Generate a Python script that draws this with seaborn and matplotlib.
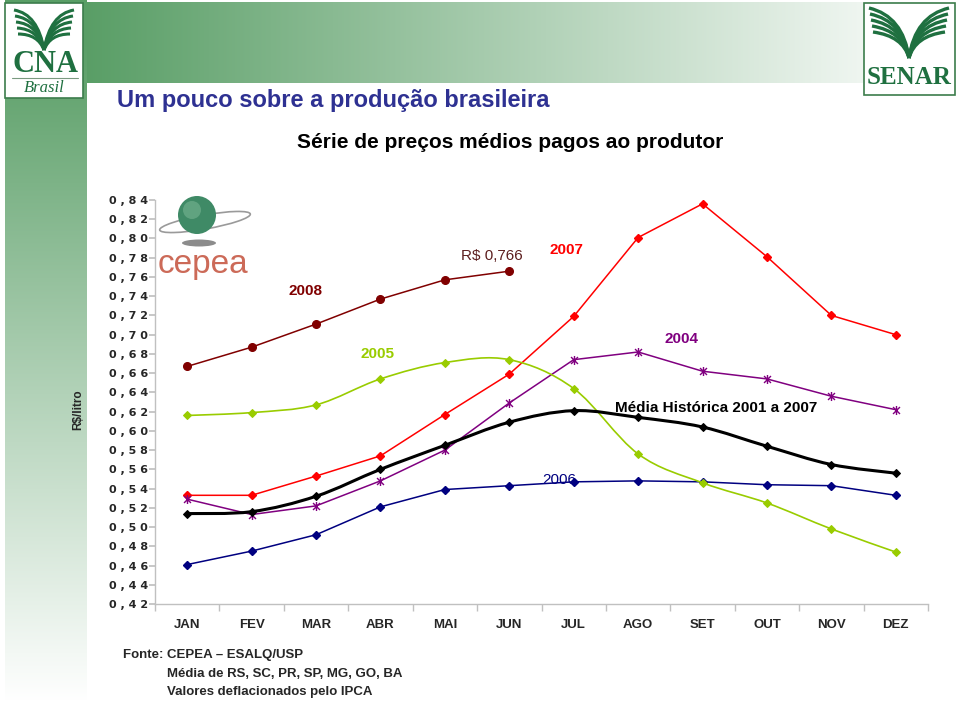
import numpy as np
import matplotlib
matplotlib.use('Agg')
import matplotlib.pyplot as plt
from matplotlib.path import Path
from matplotlib.patches import PathPatch, Rectangle, Circle, Ellipse
import seaborn as sns

months = ['JAN', 'FEV', 'MAR', 'ABR', 'MAI', 'JUN', 'JUL', 'AGO', 'SET', 'OUT', 'NOV', 'DEZ']
y2008 = [0.667, 0.687, 0.711, 0.737, 0.757, 0.766]
y2007 = [0.533, 0.533, 0.553, 0.574, 0.617, 0.659, 0.719, 0.801, 0.836, 0.781, 0.720, 0.700]
y2005 = [0.616, 0.619, 0.627, 0.654, 0.671, 0.674, 0.644, 0.576, 0.546, 0.525, 0.498, 0.474]
y2004 = [0.529, 0.513, 0.522, 0.548, 0.580, 0.629, 0.674, 0.682, 0.662, 0.654, 0.636, 0.622]
y2006 = [0.461, 0.475, 0.492, 0.521, 0.539, 0.543, 0.547, 0.548, 0.547, 0.544, 0.543, 0.533]
media = [0.514, 0.516, 0.532, 0.560, 0.585, 0.609, 0.621, 0.614, 0.604, 0.584, 0.565, 0.556]
yticks = [round(0.42 + 0.02 * i, 2) for i in range(22)]

W, H = 959, 708
GREEN = np.array([0.35, 0.62, 0.40])


def smooth_path(xs, ys, t=1 / 6):
    # excel-like smoothed line: cubic bezier through the points
    p = np.column_stack([xs, ys]).astype(float)
    n = len(p)
    verts, codes = [p[0]], [Path.MOVETO]
    for i in range(n - 1):
        p0, p1, p2, p3 = p[max(i - 1, 0)], p[i], p[i + 1], p[min(i + 2, n - 1)]
        verts += [p1 + (p2 - p0) * t, p2 - (p3 - p1) * t, p2]
        codes += [Path.CURVE4] * 3
    return Path(verts, codes)


sns.set_theme(style='white')
plt.rcParams['font.family'] = ['Liberation Sans', 'DejaVu Sans']

fig = plt.figure(figsize=(W / 100, H / 100), dpi=100)

# ---- background, banner and logos (pixel coords)
bg = fig.add_axes([0, 0, 1, 1], zorder=0)
img = np.ones((H, W, 3))
xx = np.arange(W)
t = np.clip((xx - 85) / 860, 0, 1)[None, :, None]
img[2:83, 85:, :] = (GREEN * (1 - t) + t)[:, 85:, :]
yy = np.arange(H)
s = np.clip((yy - 40) / 660, 0, 1)[:, None, None]
img[:, 5:87, :] = np.repeat(GREEN * (1 - s) + s, 82, axis=1)
bg.imshow(img, extent=(0, W, H, 0), aspect='auto', interpolation='bilinear')
bg.set_xlim(0, W)
bg.set_ylim(H, 0)
bg.axis('off')

logo_green = '#1f7040'
# CNA logo
bg.add_patch(Rectangle((5, 3), 78, 95, facecolor='white', edgecolor='#3c7d4c', lw=1.2))
for k in range(5):
    for side in (-1, 1):
        v = [(44, 50), (44 + side * 6, 14 + 5 * k), (44 + side * (30 - k), 10 + 6 * k)]
        bg.add_patch(PathPatch(Path(v, [Path.MOVETO, Path.CURVE3, Path.CURVE3]),
                               fill=False, edgecolor=logo_green, lw=2.2))
bg.text(45, 64, 'CNA', family='Liberation Serif', fontweight='bold', fontsize=22,
        color=logo_green, ha='center', va='center')
bg.plot([12, 78], [78, 78], color='#7a9a80', lw=0.8)
bg.text(44, 88, 'Brasil', family='Liberation Serif', style='italic', fontsize=12,
        color=logo_green, ha='center', va='center')

# SENAR logo
bg.add_patch(Rectangle((864, 3), 91, 92, facecolor='white', edgecolor='#3c7d4c', lw=1.2))
for k in range(5):
    for side in (-1, 1):
        v = [(909, 58), (909 + side * 6, 16 + 5 * k), (909 + side * (40 - k), 8 + 6 * k)]
        bg.add_patch(PathPatch(Path(v, [Path.MOVETO, Path.CURVE3, Path.CURVE3]),
                               fill=False, edgecolor=logo_green, lw=2.4))
bg.text(909, 77, 'SENAR', family='Liberation Serif', fontweight='bold', fontsize=18,
        color=logo_green, ha='center', va='center')

# CEPEA logo
bg.add_patch(Ellipse((205, 222), 92, 14, angle=-10, fill=False, edgecolor='#9a9a9a', lw=1.2))
bg.add_patch(Circle((197, 215), 19, facecolor='#3f8a66', edgecolor='none'))
bg.add_patch(Circle((192, 210), 9, facecolor='#6fae8c', edgecolor='none', alpha=0.7))
bg.add_patch(Ellipse((199, 243), 34, 7, facecolor='#8c8c8c', edgecolor='none'))
bg.text(203, 265, 'cepea', fontsize=24, color='#cc6a58', ha='center', va='center')

# titles and notes
bg.text(117, 100, 'Um pouco sobre a produção brasileira', fontsize=17, fontweight='bold',
        color='#2e3192', ha='left', va='center')
bg.text(510, 143, 'Série de preços médios pagos ao produtor', fontsize=15,
        fontweight='bold', color='black', ha='center', va='center')
bg.text(78, 410, 'R$/litro', fontsize=8.5, fontweight='bold', rotation=90,
        ha='center', va='center')
bg.text(123, 655, 'Fonte: CEPEA – ESALQ/USP', fontsize=9.5, fontweight='bold', va='center')
bg.text(167, 674, 'Média de RS, SC, PR, SP, MG, GO, BA', fontsize=9.5, fontweight='bold',
        va='center')
bg.text(167, 692, 'Valores deflacionados pelo IPCA', fontsize=9.5, fontweight='bold',
        va='center')

# ---- chart
ax = fig.add_axes([155 / W, 104 / H, 773 / W, 404 / H], zorder=1)
ax.patch.set_alpha(0)

star = Path([(-1, -1), (1, 1), (-1, 1), (1, -1), (0, -1.3), (0, 1.3)],
            [Path.MOVETO, Path.LINETO, Path.MOVETO, Path.LINETO, Path.MOVETO, Path.LINETO])

straight = [
    (y2008, '#800000', 'o', 5.5),
    (y2007, '#ff0000', 'D', 4.5),
    (y2004, '#800080', star, 6.5),
    (y2006, '#000080', 'D', 4.5),
]
for vals, c, m, ms in straight:
    sns.lineplot(x=np.arange(len(vals)), y=vals, ax=ax, color=c, lw=1.1, marker=m,
                 markersize=ms, markerfacecolor=c, markeredgecolor=c,
                 markeredgewidth=1, zorder=3)

for vals, c, lw in [(y2005, '#99cc00', 1.2), (media, 'black', 2.2)]:
    xs = np.arange(len(vals))
    ax.add_patch(PathPatch(smooth_path(xs, vals), fill=False, edgecolor=c, lw=lw, zorder=3))
    sns.lineplot(x=xs, y=vals, ax=ax, color=c, lw=0, marker='D', markersize=4.5,
                 markerfacecolor=c, markeredgecolor=c, zorder=4)

lab = dict(fontsize=11, fontweight='bold', ha='center', va='center')
ax.text(1.83, 0.7454, '2008', color='#800000', **lab)
ax.text(4.73, 0.7818, 'R$ 0,766', color='#5c1e1e', fontsize=11, ha='center', va='center')
ax.text(5.88, 0.788, '2007', color='#ff0000', **lab)
ax.text(2.96, 0.680, '2005', color='#99cc00', **lab)
ax.text(7.68, 0.6955, '2004', color='#800080', **lab)
ax.text(8.21, 0.6238, 'Média Histórica 2001 a 2007', color='black', **lab)
ax.text(5.77, 0.549, '2006', color='#000080', fontsize=11, ha='center', va='center')

ax.set_xlim(-0.5, 11.5)
ax.set_ylim(0.42, 0.84)
ax.set_xticks(range(12))
ax.set_xticklabels(months, fontsize=9.5, fontweight='bold')
ax.set_xticks(np.arange(-0.5, 12, 1), minor=True)
ax.set_yticks(yticks)
ax.set_yticklabels([' '.join(f'{v:.2f}'.replace('.', ',')) for v in yticks],
                   fontsize=8, fontweight='bold', family='DejaVu Sans')
ax.tick_params(axis='x', which='major', bottom=True, length=0, pad=11)
ax.tick_params(axis='x', which='minor', bottom=True, length=5, color='#c0c0c0')
ax.tick_params(axis='y', left=True, length=4, color='#c0c0c0', pad=1)
ax.set_xlabel('')
ax.set_ylabel('')
for side in ['top', 'right']:
    ax.spines[side].set_visible(False)
for side in ['left', 'bottom']:
    ax.spines[side].set_color('#c0c0c0')
    ax.spines[side].set_linewidth(1)

plt.savefig('out.png', dpi=100)
plt.close()
